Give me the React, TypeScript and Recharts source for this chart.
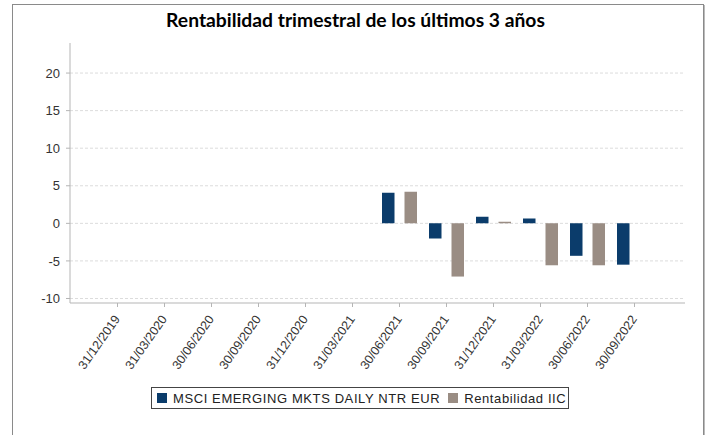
import React from 'react';
import { BarChart, Bar, XAxis, YAxis, CartesianGrid } from 'recharts';

const categories = ['31/12/2019', '31/03/2020', '30/06/2020', '30/09/2020', '31/12/2020', '31/03/2021', '30/06/2021', '30/09/2021', '31/12/2021', '31/03/2022', '30/06/2022', '30/09/2022'];
const msciValues: (number | null)[] = [null, null, null, null, null, null, 4.07, -2.0, 0.89, 0.66, -4.32, -5.5];
const iicValues: (number | null)[] = [null, null, null, null, null, null, 4.2, -7.08, 0.2, -5.58, -5.58, null];
const yTicks = [-10, -5, 0, 5, 10, 15, 20];
const seriesNames = ['MSCI EMERGING MKTS DAILY NTR EUR', 'Rentabilidad IIC'];
const seriesColors = ['#0b3c6b', '#9a8d84'];
const title = 'Rentabilidad trimestral de los últimos 3 años';

const data = categories.map((c, i) => ({ name: c, msci: msciValues[i], iic: iicValues[i] }));

const XTick = (props: any) => {
  const { x, y, payload } = props;
  return (
    <g transform={`translate(${x + 3},${y + 10})`}>
      <text x={0} y={0} textAnchor="end" fill="#333" fontSize={12.5} fontFamily="'Liberation Sans', Arial, sans-serif" transform="rotate(-55)">
        {payload.value}
      </text>
    </g>
  );
};

export default function App() {
  return (
    <div style={{ position: 'absolute', left: 0, top: 0, width: 711, height: 435, background: '#fff' }}>
      <div style={{ position: 'absolute', left: 12, top: 4, width: 692, height: 440, border: '1px solid #8a8a8a', borderBottom: 'none', boxSizing: 'border-box', boxShadow: '1px 1px 0 #bbb' }} />
      <div style={{ position: 'absolute', left: 0, top: 8, width: 711, textAlign: 'center', fontFamily: 'Lato, sans-serif', fontWeight: 700, fontSize: 19.3, color: '#000' }}>
        {title}
      </div>
      <div style={{ position: 'absolute', left: 0, top: 0 }}>
        <BarChart width={711} height={435} data={data} margin={{ top: 43, right: 26, left: 10, bottom: 61 }} barSize={12.5} barGap={10}>
          <CartesianGrid vertical={false} stroke="#dcdcdc" strokeDasharray="3 2" horizontalValues={yTicks} />
          <XAxis
            dataKey="name"
            interval={0}
            padding={{ left: 24, right: 27 }}
            height={71}
            stroke="#b5b5b5"
            tickSize={4}
            tick={<XTick />}
          />
          <YAxis
            width={60}
            domain={[-10.6, 24]}
            ticks={yTicks}
            allowDataOverflow
            stroke="#b5b5b5"
            tickSize={4}
            tickMargin={6}
            tick={{ fill: '#333', fontSize: 13, fontFamily: "'Liberation Sans', Arial, sans-serif" }}
          />
          <Bar dataKey="msci" fill={seriesColors[0]} isAnimationActive={false} />
          <Bar dataKey="iic" fill={seriesColors[1]} isAnimationActive={false} />
        </BarChart>
      </div>
      <div style={{ position: 'absolute', left: 151, top: 387, width: 418, height: 22, border: '1px solid #444', boxSizing: 'border-box', display: 'flex', alignItems: 'center', paddingLeft: 5, fontFamily: "'Liberation Sans', Arial, sans-serif", fontSize: 13, color: '#222', letterSpacing: 0.6, whiteSpace: 'nowrap' }}>
        {seriesNames.map((n, i) => (
          <span key={n} style={{ display: 'flex', alignItems: 'center', marginRight: 8 }}>
            <span style={{ display: 'inline-block', width: 10, height: 10, background: seriesColors[i], marginRight: 6 }} />
            {n}
          </span>
        ))}
      </div>
    </div>
  );
}
